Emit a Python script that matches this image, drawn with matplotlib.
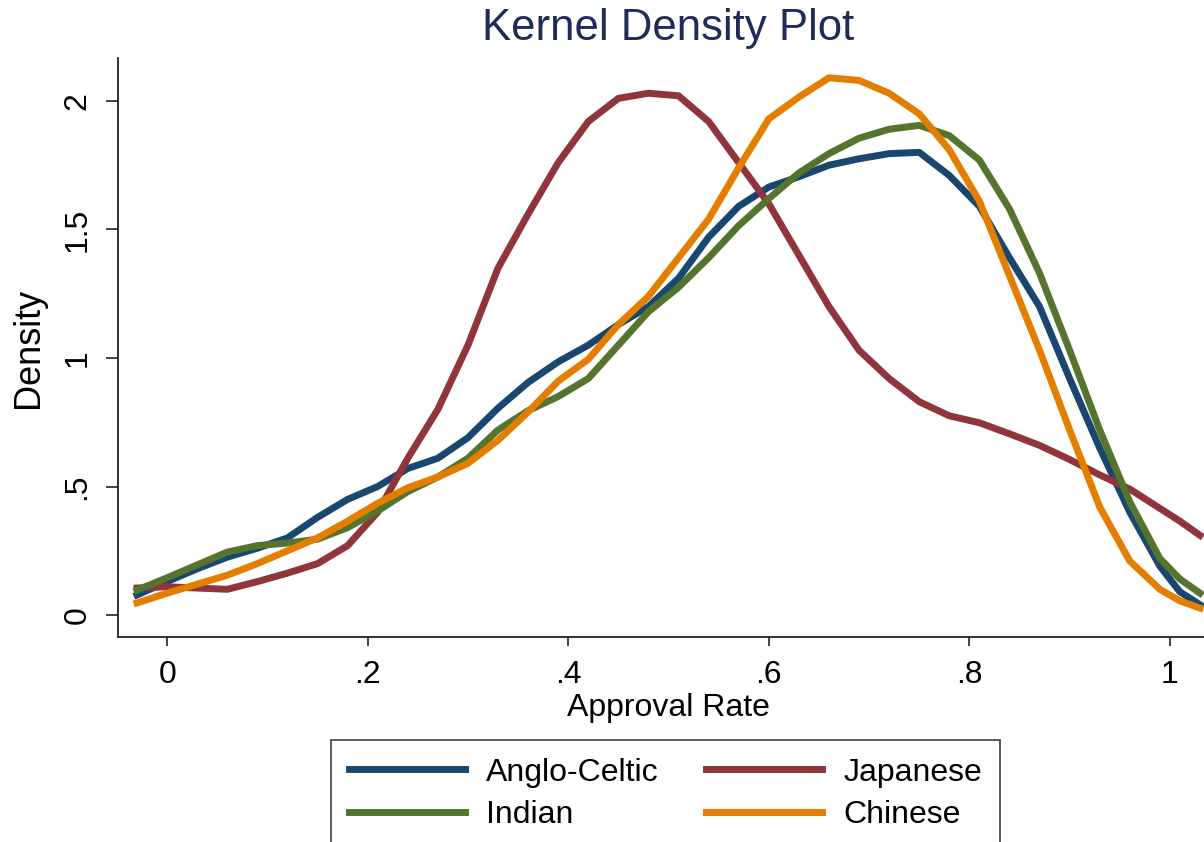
import matplotlib
matplotlib.use('Agg')
import matplotlib.pyplot as plt

# approval rate grid and density estimates
approval = [-0.03, 0.00, 0.03, 0.06, 0.09, 0.12, 0.15, 0.18, 0.21, 0.24,
            0.27, 0.30, 0.33, 0.36, 0.39, 0.42, 0.45, 0.48, 0.51, 0.54,
            0.57, 0.60, 0.63, 0.66, 0.69, 0.72, 0.75, 0.78, 0.81, 0.84,
            0.87, 0.90, 0.93, 0.96, 0.99, 1.01, 1.03]

anglo_celtic = [0.078, 0.13, 0.18, 0.225, 0.26, 0.30, 0.38, 0.45, 0.50, 0.57,
                0.61, 0.69, 0.805, 0.905, 0.985, 1.05, 1.13, 1.20, 1.31, 1.47,
                1.59, 1.665, 1.705, 1.75, 1.775, 1.795, 1.80, 1.71, 1.59, 1.39,
                1.20, 0.92, 0.65, 0.40, 0.19, 0.09, 0.04]

japanese = [0.105, 0.11, 0.105, 0.10, 0.13, 0.163, 0.20, 0.27, 0.40, 0.61,
            0.80, 1.05, 1.35, 1.56, 1.76, 1.92, 2.01, 2.03, 2.02, 1.92,
            1.76, 1.60, 1.40, 1.20, 1.03, 0.92, 0.83, 0.775, 0.748, 0.705,
            0.66, 0.605, 0.545, 0.49, 0.415, 0.365, 0.31]

indian = [0.097, 0.145, 0.195, 0.245, 0.27, 0.28, 0.295, 0.34, 0.405, 0.48,
          0.537, 0.61, 0.72, 0.795, 0.85, 0.92, 1.05, 1.18, 1.275, 1.39,
          1.515, 1.62, 1.72, 1.795, 1.855, 1.89, 1.905, 1.865, 1.77, 1.58,
          1.33, 1.03, 0.72, 0.44, 0.22, 0.14, 0.085]

chinese = [0.047, 0.085, 0.12, 0.155, 0.20, 0.25, 0.30, 0.365, 0.435, 0.495,
           0.537, 0.59, 0.68, 0.79, 0.91, 0.995, 1.13, 1.24, 1.39, 1.54,
           1.74, 1.93, 2.015, 2.09, 2.08, 2.03, 1.95, 1.81, 1.61, 1.32,
           1.03, 0.72, 0.42, 0.21, 0.10, 0.055, 0.027]

x_ticks = [0, 0.2, 0.4, 0.6, 0.8, 1.0]
x_tick_labels = ['0', '.2', '.4', '.6', '.8', '1']
y_ticks = [0, 0.5, 1.0, 1.5, 2.0]
y_tick_labels = ['0', '.5', '1', '1.5', '2']

plt.rcParams['font.family'] = ['Liberation Sans', 'DejaVu Sans']

fig = plt.figure(figsize=(12.04, 8.42), dpi=100)
ax = fig.add_axes([0.098, 0.2435, 0.902, 0.6876])

l_ac, = ax.plot(approval, anglo_celtic, color='#1a476f', lw=5, label='Anglo-Celtic')
l_jp, = ax.plot(approval, japanese, color='#90353b', lw=5, label='Japanese')
l_in, = ax.plot(approval, indian, color='#55752f', lw=5, label='Indian')
l_cn, = ax.plot(approval, chinese, color='#e37e00', lw=5, label='Chinese')

ax.set_xlim(-0.049, 1.034)
ax.set_ylim(-0.0854, 2.167)

for side in ['top', 'right']:
    ax.spines[side].set_visible(False)
for side in ['left', 'bottom']:
    ax.spines[side].set_color('#222222')
    ax.spines[side].set_linewidth(1.3)

ax.set_xticks(x_ticks)
ax.set_xticklabels(x_tick_labels, fontsize=23)
ax.set_yticks(y_ticks)
ax.set_yticklabels(y_tick_labels, fontsize=23, rotation=90, va='center')
ax.tick_params(axis='x', length=6.5, width=1.2, pad=10, color='#222222')
ax.tick_params(axis='y', length=8.5, width=1.2, pad=10, color='#222222')

ax.set_xlabel('Approval Rate', fontsize=23, labelpad=2)
ax.xaxis.label.set_x(0.507)
ax.set_ylabel('Density', fontsize=26, labelpad=12)

fig.text(0.555, 1 - 40 / 842, 'Kernel Density Plot', fontsize=31.5,
         color='#1e2d57', ha='center', va='baseline')

leg = fig.legend(handles=[l_ac, l_in, l_jp, l_cn], ncol=2, fontsize=23,
                 loc='upper left', bbox_to_anchor=(331 / 1204, 1 - 740 / 842),
                 frameon=True, fancybox=False, borderpad=0.55,
                 handlelength=3.63, handletextpad=0.66, columnspacing=1.5,
                 labelspacing=0.39, borderaxespad=0)
leg.get_frame().set_edgecolor('#222222')
leg.get_frame().set_linewidth(1.3)

fig.savefig('out.png', dpi=100)
